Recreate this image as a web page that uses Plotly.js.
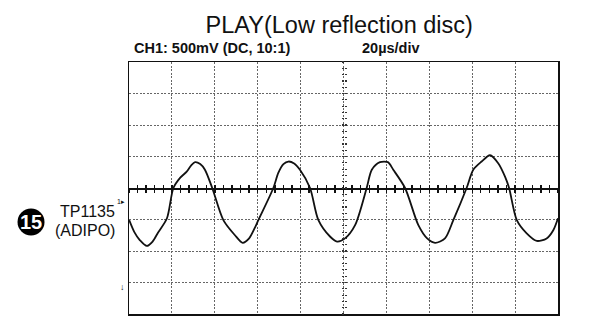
<!DOCTYPE html>
<html>
<head>
<meta charset="utf-8">
<script src="https://cdn.plot.ly/plotly-3.0.1.min.js"></script>
<style>html,body{margin:0;padding:0;background:#fff;}#chart{width:589px;height:329px;}</style>
</head>
<body>
<div id="chart"></div>
<script>
// Time in microseconds (20 us/div, 10 divisions)
var timeUs = [0.1, 2.5, 5.1, 8.3, 11.0, 13.5, 17.7, 20.7, 23.8, 26.9, 29.0, 30.8, 33.2, 35.4, 38.8, 44.0, 49.4, 53.0, 56.0, 58.7, 60.3,
  67.3, 69.6, 72.0, 74.3, 77.0, 79.7, 84.4, 88.3, 93.7, 97.0, 100.7, 105.4, 110.8, 113.2, 117.0, 120.7, 123.2, 128.7,
  134.9, 139.0, 142.7, 147.3, 151.2, 157.4, 160.5, 164.4, 168.3, 172.2, 175.3, 177.2, 180.8, 185.4, 190.1, 194.7, 197.8, 200];
// Voltage in volts (500 mV/div, 8 divisions)
var voltsV = [-0.51, -0.70, -0.83, -0.92, -0.85, -0.71, -0.48, 0, 0.16, 0.26, 0.36, 0.41, 0.38, 0.29, 0, -0.51, -0.75, -0.87, -0.80, -0.63, -0.51,
  0, 0.24, 0.38, 0.42, 0.39, 0.29, 0, -0.51, -0.77, -0.85, -0.80, -0.59, 0, 0.29, 0.41, 0.41, 0.29, 0,
  -0.59, -0.80, -0.87, -0.80, -0.51, 0, 0.29, 0.42, 0.52, 0.39, 0.18, 0, -0.51, -0.72, -0.84, -0.80, -0.67, -0.48];

var xRange = [0, 200];
var yRange = [-2, 2];

var traces = [
  {x: timeUs, y: voltsV, mode: 'lines', line: {color: '#111', width: 1.8, shape: 'spline', smoothing: 0.8},
   hoverinfo: 'skip', showlegend: false},
  {x: timeUs, y: voltsV, xaxis: 'x2', yaxis: 'y2', mode: 'none', hoverinfo: 'skip', showlegend: false},
  {x: timeUs, y: voltsV, xaxis: 'x3', yaxis: 'y3', mode: 'none', hoverinfo: 'skip', showlegend: false}
];

var gridCol = '#666';
var gridDash = '2px,1.5px';
var layout = {
  width: 589, height: 329,
  margin: {l: 129, r: 31, t: 62, b: 15},
  paper_bgcolor: '#fff', plot_bgcolor: '#fff',
  font: {family: 'Liberation Sans, Arial, sans-serif', color: '#111'},
  title: {text: 'PLAY(Low reflection disc)', font: {size: 23.5, color: '#111', family: 'Liberation Sans, Arial, sans-serif'},
          xref: 'container', x: 0.576, xanchor: 'center', yref: 'container', y: 0.925, yanchor: 'middle'},
  xaxis: {range: xRange, dtick: 20, showgrid: true, gridcolor: gridCol, griddash: gridDash, gridwidth: 1,
          zeroline: false, showticklabels: false, ticks: '', showline: true, mirror: true, linecolor: '#111', linewidth: 1.5,
          fixedrange: true},
  yaxis: {range: yRange, dtick: 0.5, showgrid: true, gridcolor: gridCol, griddash: gridDash, gridwidth: 1,
          zeroline: false, showticklabels: false, ticks: '', showline: true, mirror: true, linecolor: '#111', linewidth: 1.5,
          fixedrange: true},
  // center horizontal line with crossing ticks
  xaxis2: {range: xRange, overlaying: 'x', anchor: 'free', position: 0.5, showgrid: false, zeroline: false,
           showticklabels: false, showline: true, linecolor: '#111', linewidth: 1.6,
           ticks: 'outside', ticklen: 3, tickwidth: 1.4, tickcolor: '#111', dtick: 4, tick0: 0},
  xaxis3: {range: xRange, overlaying: 'x', anchor: 'free', position: 0.5, showgrid: false, zeroline: false,
           showticklabels: false, showline: false,
           ticks: 'inside', ticklen: 3, tickwidth: 1.4, tickcolor: '#111', dtick: 4, tick0: 0},
  // center vertical line ticks
  yaxis2: {range: yRange, overlaying: 'y', anchor: 'free', position: 0.5, showgrid: false, zeroline: false,
           showticklabels: false, showline: false,
           ticks: 'outside', ticklen: 2, tickwidth: 1.2, tickcolor: '#333', dtick: 0.1, tick0: 0},
  yaxis3: {range: yRange, overlaying: 'y', anchor: 'free', position: 0.5, showgrid: false, zeroline: false,
           showticklabels: false, showline: false,
           ticks: 'inside', ticklen: 2, tickwidth: 1.2, tickcolor: '#333', dtick: 0.1, tick0: 0},
  shapes: [
    {type: 'circle', xref: 'paper', yref: 'paper', xsizemode: 'pixel', ysizemode: 'pixel',
     xanchor: -0.2284, yanchor: 0.365, x0: -13.5, x1: 13.5, y0: -13.5, y1: 13.5,
     fillcolor: '#000', line: {color: '#000', width: 0}}
  ],
  annotations: [
    {text: '<b>CH1: 500mV (DC, 10:1)</b>', xref: 'paper', yref: 'paper', x: 0.007, y: 1.056,
     xanchor: 'left', yanchor: 'middle', showarrow: false, font: {size: 14.5, color: '#111'}},
    {text: '<b>20µs/div</b>', xref: 'paper', yref: 'paper', x: 0.538, y: 1.056,
     xanchor: 'left', yanchor: 'middle', showarrow: false, font: {size: 14.5, color: '#111'}},
    {text: 'TP1135', xref: 'paper', yref: 'paper', x: -0.028, y: 0.405,
     xanchor: 'right', yanchor: 'middle', showarrow: false, font: {size: 16, color: '#111'}},
    {text: '(ADIPO)', xref: 'paper', yref: 'paper', x: -0.028, y: 0.333,
     xanchor: 'right', yanchor: 'middle', showarrow: false, font: {size: 16, color: '#111'}},
    {text: '<b>15</b>', xref: 'paper', yref: 'paper', x: -0.2284, y: 0.365,
     xanchor: 'center', yanchor: 'middle', showarrow: false,
     font: {size: 20, color: '#fff', family: 'Liberation Sans Narrow, Arial Narrow, Liberation Sans, sans-serif'}},
    {text: '1▸', xref: 'paper', yref: 'paper', x: -0.004, y: 0.448,
     xanchor: 'right', yanchor: 'middle', showarrow: false, font: {size: 7, color: '#111'}},
    {text: '<b>↓</b>', xref: 'paper', yref: 'paper', x: -0.004, y: 0.107,
     xanchor: 'right', yanchor: 'middle', showarrow: false, font: {size: 9, color: '#111'}}
  ]
};

Plotly.newPlot('chart', traces, layout, {displayModeBar: false, staticPlot: true});
</script>
</body>
</html>
